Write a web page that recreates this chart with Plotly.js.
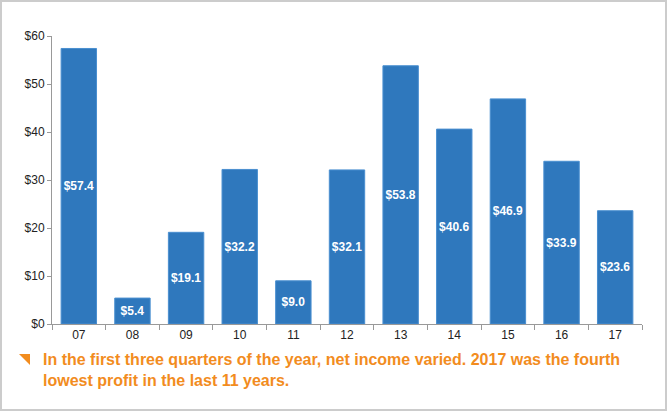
<!DOCTYPE html>
<html>
<head>
<meta charset="utf-8">
<script src="https://cdn.plot.ly/plotly-3.0.1.min.js"></script>
<style>
html,body{margin:0;padding:0;background:#fff;}
#wrap{position:relative;width:667px;height:411px;}
#chart{width:667px;height:411px;}
#frame{position:absolute;left:0;top:0;width:667px;height:411px;box-sizing:border-box;border:2px solid #cccccc;pointer-events:none;}
</style>
</head>
<body>
<div id="wrap"><div id="chart"></div><div id="frame"></div></div>
<script>
var years = ["07","08","09","10","11","12","13","14","15","16","17"];
var netIncome = [57.4, 5.4, 19.1, 32.2, 9.0, 32.1, 53.8, 40.6, 46.9, 33.9, 23.6];
var yTicks = [0, 10, 20, 30, 40, 50, 60];
var noteLines = [
  "In the first three quarters of the year, net income varied. 2017 was the fourth",
  "lowest profit in the last 11 years."
];

var labels = netIncome.map(function(v){ return "$" + v.toFixed(1); });

var trace = {
  type: "bar",
  x: years,
  y: netIncome,
  text: labels,
  textposition: "inside",
  insidetextanchor: "middle",
  textangle: 0,
  textfont: {family: "Liberation Sans, Arial, sans-serif", size: 12, color: "#ffffff", weight: "bold"},
  marker: {color: "#2f78bd", line: {color: "#4a8fd0", width: 1}},
  width: 0.66,
  hoverinfo: "none"
};

var layout = {
  width: 667, height: 411,
  margin: {l: 52, r: 25, t: 36, b: 87},
  paper_bgcolor: "#ffffff",
  plot_bgcolor: "#ffffff",
  showlegend: false,
  font: {family: "Liberation Sans, Arial, sans-serif", size: 12, color: "#222222"},
  uniformtext: {mode: "show", minsize: 12},
  xaxis: {
    type: "category",
    range: [-0.5, 10.5],
    showline: true, linecolor: "#999999", linewidth: 1,
    ticks: "outside", tickson: "boundaries", ticklen: 5, tickcolor: "#999999",
    showgrid: false, zeroline: false,
    tickfont: {size: 12, color: "#222222"}
  },
  yaxis: {
    range: [0, 60],
    tickvals: yTicks,
    ticktext: yTicks.map(function(t){ return "$" + t; }),
    showline: true, linecolor: "#999999", linewidth: 1,
    ticks: "outside", ticklen: 4, tickcolor: "#999999",
    showgrid: false, zeroline: false,
    tickfont: {size: 12, color: "#222222"}
  },
  shapes: [{
    type: "path", xref: "paper", yref: "paper",
    path: "M -0.0559 -0.104 L -0.0373 -0.104 L -0.0373 -0.142 Z",
    fillcolor: "#f28c1e", line: {width: 0}
  }],
  annotations: [{
    xref: "paper", yref: "paper",
    x: -0.0186, y: -0.0884,
    xanchor: "left", yanchor: "top", align: "left",
    showarrow: false,
    text: "<b>" + noteLines.join("<br>") + "</b>",
    font: {family: "Liberation Sans, Arial, sans-serif", size: 16, color: "#f28c1e"}
  }]
};

Plotly.newPlot("chart", [trace], layout, {displayModeBar: false, staticPlot: true});
</script>
</body>
</html>
